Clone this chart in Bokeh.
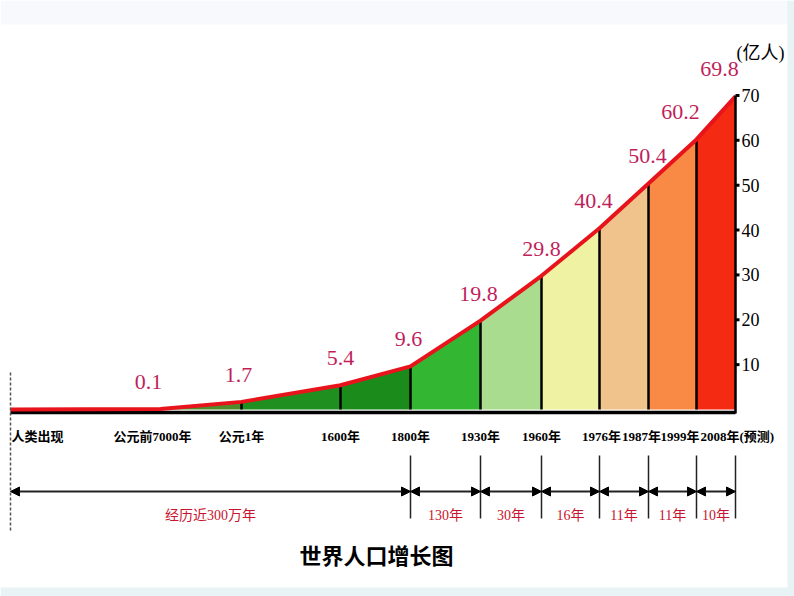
from bokeh.plotting import figure
from bokeh.models import Range1d, ColumnDataSource, Arrow, NormalHead
from bokeh.core.properties import value
from bokeh.embed import file_html
from bokeh.resources import INLINE

# ---------------- data ----------------
categories = ["人类出现", "公元前7000年", "公元1年", "1600年", "1800年", "1930年",
              "1960年", "1976年", "1987年", "1999年", "2008年(预测)"]
population = [0, 0.1, 1.7, 5.4, 9.6, 19.8, 29.8, 40.4, 50.4, 60.2, 69.8]   # 亿人
value_labels = ["", "0.1", "1.7", "5.4", "9.6", "19.8", "29.8", "40.4", "50.4", "60.2", "69.8"]
interval_labels = ["经历近300万年", "130年", "30年", "16年", "11年", "11年", "10年"]
interval_bounds = [0, 4, 5, 6, 7, 8, 9, 10]          # category indices
y_ticks = [10, 20, 30, 40, 50, 60, 70]
unit_label = "(亿人)"
title = "世界人口增长图"

# position of each category on the (non-linear) time axis
cat_pos = [10, 160, 241, 340, 410, 480, 541, 599, 648, 696, 735]

# ---------------- layout helpers ----------------
W, H = 794, 596
BASE_ROW, TOP_ROW = 409, 95            # pixel rows of 0 and 70
K = (BASE_ROW - TOP_ROW) / 70.0


def row(r):
    return (BASE_ROW - r) / K


SERIF = value("Liberation Serif, Noto Sans CJK SC")
CJK = value("Noto Sans CJK SC")

p = figure(width=W, height=H, x_range=Range1d(0, W),
           y_range=Range1d(row(H), row(0)),
           toolbar_location=None, output_backend="svg",
           x_axis_location=None, y_axis_location=None, min_border=0)
p.grid.grid_line_color = None
p.outline_line_color = None
p.background_fill_color = "white"
p.border_fill_color = "white"

# background strips
p.quad(left=0, right=W, top=row(0), bottom=row(24), color="#f7f9fd", line_color=None)
p.quad(left=787, right=W, top=row(0), bottom=row(H), color="#e7f3f4", line_color=None)
p.quad(left=0, right=W, top=row(587), bottom=row(H), color="#e7f3f4", line_color=None)

# coloured area segments
seg_colors = ["#4f8d2c", "#1f901f", "#1b8c1b", "#33b733", "#a9dc8f",
              "#eef2a2", "#efc38b", "#f98a45", "#f42a12"]
xs, ys = [], []
for i in range(1, len(cat_pos) - 1):
    xs.append([cat_pos[i], cat_pos[i], cat_pos[i + 1], cat_pos[i + 1]])
    ys.append([0, population[i], population[i + 1], 0])
p.patches(xs, ys, fill_color=seg_colors, line_color=None)

# separators
p.segment(x0=cat_pos[2:-1], y0=[0] * 8, x1=cat_pos[2:-1], y1=population[2:-1],
          line_color="black", line_width=2.5)

# baseline (drawn just under the curve) and right axis
axis_x = cat_pos[-1]
p.segment(x0=[cat_pos[0]], y0=[row(BASE_ROW + 3)], x1=[axis_x], y1=[row(BASE_ROW + 3)],
          line_color="black", line_width=3.5)

# red growth curve
p.line(cat_pos, population, line_color="#e8141c", line_width=4, line_join="round")

p.segment(x0=[axis_x], y0=[row(BASE_ROW + 4)], x1=[axis_x], y1=[max(y_ticks)],
          line_color="black", line_width=2.5)
p.segment(x0=[axis_x] * len(y_ticks), y0=y_ticks, x1=[axis_x + 4] * len(y_ticks), y1=y_ticks,
          line_color="black", line_width=3)
p.text(x=[axis_x + 6] * len(y_ticks), y=y_ticks, text=[str(t) for t in y_ticks],
       text_font=SERIF, text_font_size="18px", text_color="black",
       text_align="left", text_baseline="middle")
p.text(x=[axis_x + 1], y=[row(52)], text=[unit_label], text_font=SERIF,
       text_font_size="18px", text_color="black", text_align="left", text_baseline="middle")

# value labels
vsrc = ColumnDataSource(dict(
    x=cat_pos[1:], y=[v + 27 / K for v in population[1:]], t=value_labels[1:],
    xo=[-12, -3, 0, -2, -2, 0, -6, -1, -16, -16]))
p.text(x="x", y="y", text="t", x_offset="xo", source=vsrc, text_font=SERIF,
       text_font_size="22px", text_color="#bf1f5c", text_align="center",
       text_baseline="middle")

# category labels
csrc = ColumnDataSource(dict(
    x=cat_pos, y=[row(436)] * len(cat_pos), t=categories,
    align=["left"] + ["center"] * 8 + ["right", "left"],
    xo=[1, -8, 0, 0, 0, 0, 0, 2, -7, 3, -35]))
p.text(x="x", y="y", text="t", x_offset="xo", text_align="align", source=csrc,
       text_font=SERIF, text_font_size="13px", text_font_style="bold",
       text_color="black", text_baseline="middle")

# lower tick lines
low_x = [cat_pos[i] for i in interval_bounds[1:]]
p.segment(x0=low_x, y0=[row(455)] * len(low_x), x1=low_x, y1=[row(518)] * len(low_x),
          line_color="#222222", line_width=1.5)
p.segment(x0=[cat_pos[0]], y0=[row(372)], x1=[cat_pos[0]], y1=[row(530)],
          line_color="#555555", line_width=1.5, line_dash="3 2")

# interval arrows
bx0 = [cat_pos[interval_bounds[i]] for i in range(len(interval_labels))]
bx1 = [cat_pos[interval_bounds[i + 1]] for i in range(len(interval_labels))]
asrc = ColumnDataSource(dict(x0=bx0, x1=bx1, y=[row(491)] * len(bx0)))
p.add_layout(Arrow(x_start="x0", y_start="y", x_end="x1", y_end="y", source=asrc,
                   line_color="#222222", line_width=2,
                   start=NormalHead(size=9, fill_color="black", line_color="black"),
                   end=NormalHead(size=9, fill_color="black", line_color="black")))
p.text(x=[(a + b) / 2 for a, b in zip(bx0, bx1)], y=[row(515)] * len(bx0),
       text=interval_labels, text_font=SERIF, text_font_size="14px",
       text_color="#c8142e", text_align="center", text_baseline="middle")

# title
p.text(x=[376], y=[row(553)], text=[title], text_font=CJK, text_font_size="22px",
       text_font_style="bold", text_color="black", text_align="center",
       text_baseline="middle")

open("out.html", "w").write(file_html(p, INLINE))
